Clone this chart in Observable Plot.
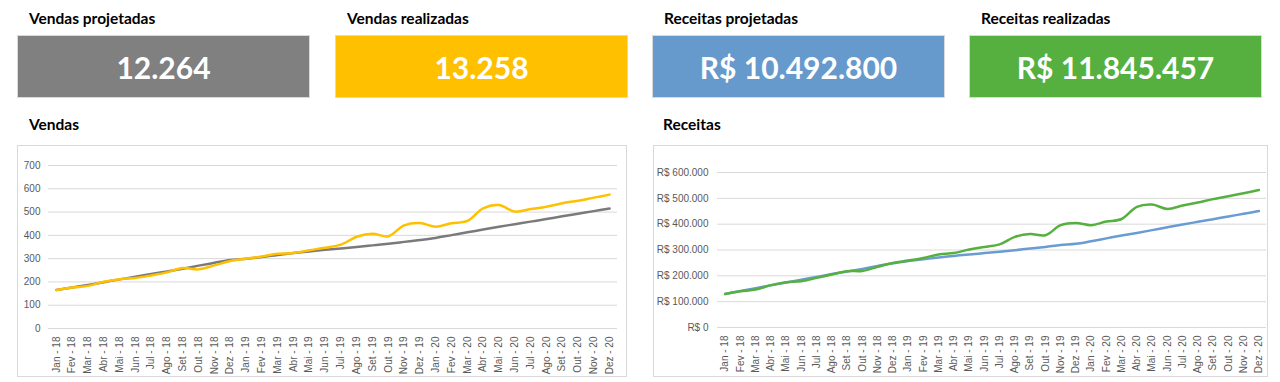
<!DOCTYPE html>
<html><head><meta charset="utf-8">
<script src="https://cdn.jsdelivr.net/npm/d3@7"></script>
<script src="https://cdn.jsdelivr.net/npm/@observablehq/plot@0.6"></script>
<style>
body{margin:0;background:#fff;width:1280px;height:382px;position:relative;overflow:hidden;font-family:Lato,sans-serif}
.t{position:absolute;font-weight:700;font-size:15.5px;color:#000;white-space:nowrap;line-height:1}
.k{position:absolute;top:35px;height:63px;width:293px;box-sizing:border-box;border:1px solid #d9d9d9;color:#fff;font-weight:700;font-size:30px;display:flex;align-items:center;justify-content:center;line-height:1}
.f{position:absolute;top:145px;height:232px;border:1px solid #d9d9d9;box-sizing:border-box}
.c{position:absolute;top:145px}
.c svg{overflow:visible}
</style></head><body>
<script>
const months = ["Jan - 18","Fev - 18","Mar - 18","Abr - 18","Mai - 18","Jun - 18","Jul - 18","Ago - 18","Set - 18","Out - 18","Nov - 18","Dez - 18",
"Jan - 19","Fev - 19","Mar - 19","Abr - 19","Mai - 19","Jun - 19","Jul - 19","Ago - 19","Set - 19","Out - 19","Nov - 19","Dez - 19",
"Jan - 20","Fev - 20","Mar - 20","Abr - 20","Mai - 20","Jun - 20","Jul - 20","Ago - 20","Set - 20","Out - 20","Nov - 20","Dez - 20"];

const vendasProjetadas = [165,176,187,199,211,222,234,245,257,270,282,294,
  300,307,316,324,331,338,344,350,357,364,372,380,
  389,401,413,425,437,448,459,470,482,493,504,515];
const vendasRealizadas = [165,176,183,201,212,217,228,241,260,254,271,290,
  300,309,321,324,336,347,360,394,407,396,443,453,
  437,452,462,516,530,502,513,523,538,549,562,575];
const receitasProjetadas = [130000,141000,152000,163000,174000,185000,196000,207000,217000,227000,238000,249000,
  257000,264000,271000,277000,283000,288000,293000,299000,306000,312000,319000,324000,
  334000,345000,356000,366000,377000,388000,399000,409000,419000,430000,440000,451000];
const receitasRealizadas = [130000,140000,147000,164000,175000,179000,192000,205000,218000,219000,235000,250000,
  259000,269000,283000,288000,302000,312000,322000,351000,362000,357000,396000,405000,
  396000,410000,420000,467000,476000,459000,472000,484000,497000,508000,520000,532000];

const vendasTicks = [0,100,200,300,400,500,600,700];
const receitasTicks = [0,100000,200000,300000,400000,500000,600000];

const kpiTitles = ["Vendas projetadas","Vendas realizadas","Receitas projetadas","Receitas realizadas"];
const kpiValues = [12264, 13258, 10492800, 11845457];
const kpiCurrency = [false, false, true, true];
const kpiColors = ["#808080","#ffc000","#6699cc","#55b03f"];
const chartTitles = ["Vendas","Receitas"];

const locale = d3.formatLocale({decimal:",", thousands:".", grouping:[3], currency:["R$ ",""]});
const fmtNum = locale.format(",");
const fmtCur = locale.format("$,");

const kpiLeft = [17, 335, 652, 969];
kpiTitles.forEach((t,i)=>{
  const h = document.createElement("div"); h.className="t"; h.textContent=t;
  h.style.left=(kpiLeft[i]+12)+"px"; h.style.top="11px"; document.body.appendChild(h);
  const b = document.createElement("div"); b.className="k";
  b.style.left=kpiLeft[i]+"px"; b.style.background=kpiColors[i];
  b.textContent = kpiCurrency[i] ? fmtCur(kpiValues[i]) : fmtNum(kpiValues[i]);
  document.body.appendChild(b);
});
[[29,chartTitles[0]],[663,chartTitles[1]]].forEach(([x,t])=>{
  const h=document.createElement("div"); h.className="t"; h.textContent=t;
  h.style.left=x+"px"; h.style.top="117px"; document.body.appendChild(h);
});

function chart(left, width, mL, mR, mT, mB, ticks, fmt, tickPad, proj, real, cProj, cReal){
  const f=document.createElement("div"); f.className="f"; f.style.left=left+"px"; f.style.width=(width+1)+"px";
  document.body.appendChild(f);
  const p = Plot.plot({
    width, height:231, marginLeft:mL, marginRight:mR, marginTop:mT, marginBottom:mB,
    style:{fontFamily:"'Liberation Sans', Arial, sans-serif", fontSize:"10px", color:"#595959", background:"transparent"},
    x:{type:"point", domain:months, padding:0.5, round:false, label:null},
    y:{domain:[0, ticks[ticks.length-1]], label:null},
    marks:[
      Plot.gridY(ticks, {stroke:"#d9d9d9", strokeOpacity:1, strokeWidth:1}),
      Plot.axisY(ticks, {tickSize:0, tickPadding:tickPad, label:null, tickFormat:fmt}),
      Plot.axisX({tickSize:0, tickPadding:8, tickRotate:-90, label:null}),
      Plot.line(months, {x:d=>d, y:(d,i)=>proj[i], stroke:cProj, strokeWidth:2.5, curve:"catmull-rom"}),
      Plot.line(months, {x:d=>d, y:(d,i)=>real[i], stroke:cReal, strokeWidth:2.5, curve:"catmull-rom"})
    ]
  });
  const c=document.createElement("div"); c.className="c"; c.style.left=left+"px";
  c.appendChild(p); document.body.appendChild(c);
}
chart(17, 609, 31, 9, 20, 48, vendasTicks, d=>fmtNum(d), 8, vendasProjetadas, vendasRealizadas, "#7a7a7a", "#ffc000");
chart(653, 614, 64, 1, 27, 49, receitasTicks, d=>fmtCur(d), 9, receitasProjetadas, receitasRealizadas, "#6a9bd3", "#56b040");
</script>
</body></html>
